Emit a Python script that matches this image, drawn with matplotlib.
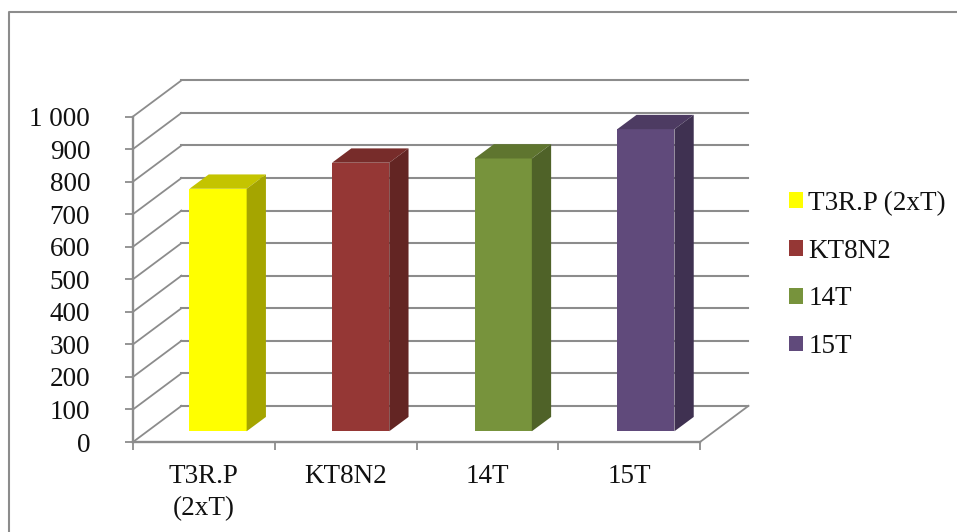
import matplotlib
matplotlib.use('Agg')
import matplotlib.pyplot as plt
from matplotlib.lines import Line2D

plt.rcParams['font.family'] = ['Liberation Serif']

# data
categories = ['T3R.P (2xT)', 'KT8N2', '14T', '15T']
tick_labels = ['T3R.P\n(2xT)', 'KT8N2', '14T', '15T']
values = [745, 825, 838, 928]
y_ticks = [0, 100, 200, 300, 400, 500, 600, 700, 800, 900, 1000]
y_labels = ['0', '100', '200', '300', '400', '500', '600', '700', '800', '900', '1 000']

front_colors = ['#FFFF00', '#953735', '#77933C', '#604A7B']
top_colors = ['#C4C400', '#772C2A', '#5F752F', '#4D3B62']
side_colors = ['#A5A500', '#632523', '#4F6228', '#3F3151']
grid_color = '#8c8c8c'

W, H = 957, 532
fig = plt.figure(figsize=(W / 100, H / 100), dpi=100)
ax = fig.add_axes([133 / W, (H - 442) / H, 567 / W, 325.5 / H])
ax.set_xlim(0, 4)
ax.set_ylim(0, 1000)
ax.patch.set_visible(False)

# depth of the back wall and of the bars, in data units
wall_dx, wall_dy = 0.342, 111
bar_dx, bar_dy = 0.136, 44
bar_base = 33
bar_width = 0.4035
bar_offset = 0.6
bar_step = 1.006

# gridlines on the walls
for t in y_ticks:
    ax.plot([wall_dx, 4 + wall_dx], [t + wall_dy, t + wall_dy], color=grid_color,
            lw=1.5, clip_on=False, zorder=1)
    ax.plot([0, wall_dx], [t, t + wall_dy], color=grid_color, lw=1.3, clip_on=False, zorder=1)
# right edge of the floor
ax.plot([4, 4 + wall_dx], [0, wall_dy], color=grid_color, lw=1.3, clip_on=False, zorder=1)

# bars: front, top and side faces
for i in range(len(values)):
    xc = i * bar_step + bar_offset
    x0 = xc - bar_width / 2
    x1 = x0 + bar_width
    top = bar_base + values[i]
    ax.bar(xc, values[i], bar_width, bottom=bar_base, color=front_colors[i],
           label=categories[i], zorder=3)
    ax.fill([x0, x1, x1 + bar_dx, x0 + bar_dx], [top, top, top + bar_dy, top + bar_dy],
            color=top_colors[i], lw=0, clip_on=False, zorder=3)
    ax.fill([x1, x1 + bar_dx, x1 + bar_dx, x1],
            [bar_base, bar_base + bar_dy, top + bar_dy, top],
            color=side_colors[i], lw=0, clip_on=False, zorder=3)

for s in ['top', 'right']:
    ax.spines[s].set_visible(False)
for s in ['left', 'bottom']:
    ax.spines[s].set_color(grid_color)
    ax.spines[s].set_linewidth(1.7)

ax.set_yticks(y_ticks)
ax.set_yticklabels(y_labels, fontsize=19.5)
ax.tick_params(axis='y', length=5.8, width=1.3, color=grid_color, pad=25, labelcolor='#111111')
ax.set_xticks([0, 1, 2, 3, 4])
ax.set_xticklabels([])
ax.tick_params(axis='x', which='major', length=5.5, width=1.3, color=grid_color)
ax.set_xticks([0.5, 1.5, 2.5, 3.5], minor=True)
ax.set_xticklabels(tick_labels, minor=True, fontsize=19.5, linespacing=1.42, color='#111111')
ax.tick_params(axis='x', which='minor', length=0, pad=15.5)

ax.legend(loc='center left', bbox_to_anchor=(789 / W, (H - 275) / H),
          bbox_transform=fig.transFigure, frameon=False, fontsize=19.5, handlelength=0.52,
          handleheight=0.52, handletextpad=0.2, labelspacing=0.84, borderpad=0,
          borderaxespad=0, labelcolor='#111111')

# outer chart frame, only left and top are in the crop
fig.add_artist(Line2D([8.5 / W, 8.5 / W, 1], [0, (H - 12) / H, (H - 12) / H],
                      color='#8c8c8c', lw=1.5))

fig.savefig('out.png', dpi=100)
